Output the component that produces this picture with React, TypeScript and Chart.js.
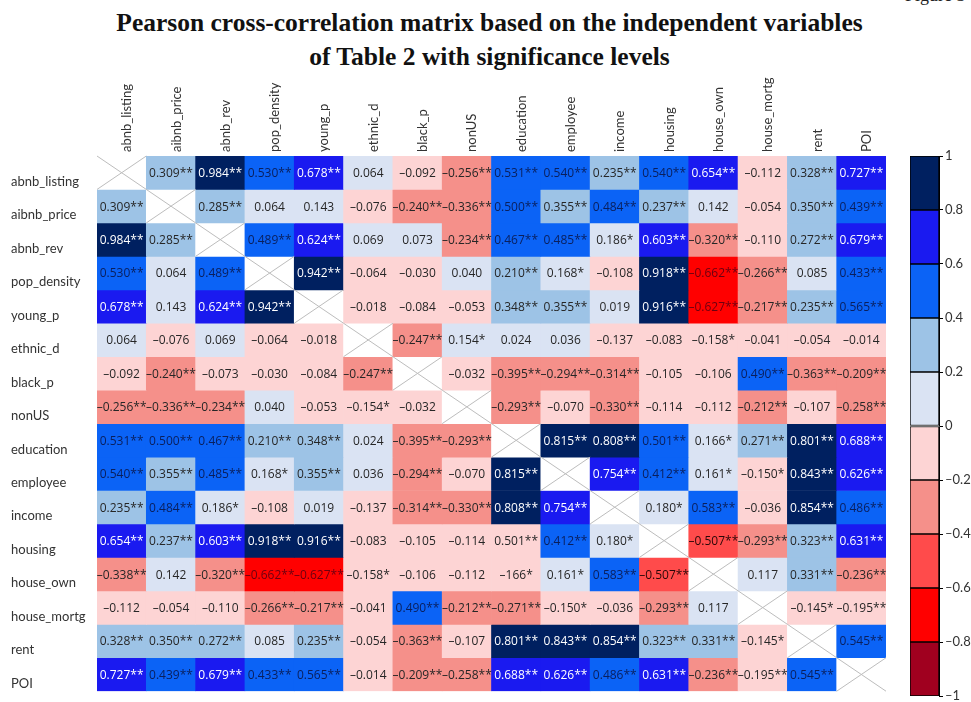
import React, { useEffect, useRef } from "react";
import { Chart, registerables } from "chart.js";

Chart.register(...registerables);

// ---------- data ----------
const colLabels = [
  "abnb_listing", "aibnb_price", "abnb_rev", "pop_density", "young_p", "ethnic_d", "black_p", "nonUS",
  "education", "employee", "income", "housing", "house_own", "house_mortg", "rent", "POI",
];
const rowLabels = colLabels;

// Pearson r (row by row); null = diagonal
const corr: (number | null)[][] = [
  [null, 0.309, 0.984, 0.530, 0.678, 0.064, -0.092, -0.256, 0.531, 0.540, 0.235, 0.540, 0.654, -0.112, 0.328, 0.727],
  [0.309, null, 0.285, 0.064, 0.143, -0.076, -0.240, -0.336, 0.500, 0.355, 0.484, 0.237, 0.142, -0.054, 0.350, 0.439],
  [0.984, 0.285, null, 0.489, 0.624, 0.069, 0.073, -0.234, 0.467, 0.485, 0.186, 0.603, -0.320, -0.110, 0.272, 0.679],
  [0.530, 0.064, 0.489, null, 0.942, -0.064, -0.030, 0.040, 0.210, 0.168, -0.108, 0.918, -0.662, -0.266, 0.085, 0.433],
  [0.678, 0.143, 0.624, 0.942, null, -0.018, -0.084, -0.053, 0.348, 0.355, 0.019, 0.916, -0.627, -0.217, 0.235, 0.565],
  [0.064, -0.076, 0.069, -0.064, -0.018, null, -0.247, 0.154, 0.024, 0.036, -0.137, -0.083, -0.158, -0.041, -0.054, -0.014],
  [-0.092, -0.240, -0.073, -0.030, -0.084, -0.247, null, -0.032, -0.395, -0.294, -0.314, -0.105, -0.106, 0.490, -0.363, -0.209],
  [-0.256, -0.336, -0.234, 0.040, -0.053, -0.154, -0.032, null, -0.293, -0.070, -0.330, -0.114, -0.112, -0.212, -0.107, -0.258],
  [0.531, 0.500, 0.467, 0.210, 0.348, 0.024, -0.395, -0.293, null, 0.815, 0.808, 0.501, 0.166, 0.271, 0.801, 0.688],
  [0.540, 0.355, 0.485, 0.168, 0.355, 0.036, -0.294, -0.070, 0.815, null, 0.754, 0.412, 0.161, -0.150, 0.843, 0.626],
  [0.235, 0.484, 0.186, -0.108, 0.019, -0.137, -0.314, -0.330, 0.808, 0.754, null, 0.180, 0.583, -0.036, 0.854, 0.486],
  [0.654, 0.237, 0.603, 0.918, 0.916, -0.083, -0.105, -0.114, 0.501, 0.412, 0.180, null, -0.507, -0.293, 0.323, 0.631],
  [-0.338, 0.142, -0.320, -0.662, -0.627, -0.158, -0.106, -0.112, -0.166, 0.161, 0.583, -0.507, null, 0.117, 0.331, -0.236],
  [-0.112, -0.054, -0.110, -0.266, -0.217, -0.041, 0.490, -0.212, -0.271, -0.150, -0.036, -0.293, 0.117, null, -0.145, -0.195],
  [0.328, 0.350, 0.272, 0.085, 0.235, -0.054, -0.363, -0.107, 0.801, 0.843, 0.854, 0.323, 0.331, -0.145, null, 0.545],
  [0.727, 0.439, 0.679, 0.433, 0.565, -0.014, -0.209, -0.258, 0.688, 0.626, 0.486, 0.631, -0.236, -0.195, 0.545, null],
];

// significance stars per cell (0, 1 = *, 2 = **)
const stars: number[][] = [
  [0, 2, 2, 2, 2, 0, 0, 2, 2, 2, 2, 2, 2, 0, 2, 2],
  [2, 0, 2, 0, 0, 0, 2, 2, 2, 2, 2, 2, 0, 0, 2, 2],
  [2, 2, 0, 2, 2, 0, 0, 2, 2, 2, 1, 2, 2, 0, 2, 2],
  [2, 0, 2, 0, 2, 0, 0, 0, 2, 1, 0, 2, 2, 2, 0, 2],
  [2, 0, 2, 2, 0, 0, 0, 0, 2, 2, 0, 2, 2, 2, 2, 2],
  [0, 0, 0, 0, 0, 0, 2, 1, 0, 0, 0, 0, 1, 0, 0, 0],
  [0, 2, 0, 0, 0, 2, 0, 0, 2, 2, 2, 0, 0, 2, 2, 2],
  [2, 2, 2, 0, 0, 1, 0, 0, 2, 0, 2, 0, 0, 2, 0, 2],
  [2, 2, 2, 2, 2, 0, 2, 2, 0, 2, 2, 2, 1, 2, 2, 2],
  [2, 2, 2, 1, 2, 0, 2, 0, 2, 0, 2, 2, 1, 1, 2, 2],
  [2, 2, 1, 0, 0, 0, 2, 2, 2, 2, 0, 1, 2, 0, 2, 2],
  [2, 2, 2, 2, 2, 0, 0, 0, 2, 2, 1, 0, 2, 2, 2, 2],
  [2, 0, 2, 2, 2, 1, 0, 0, 1, 1, 2, 2, 0, 0, 2, 2],
  [0, 0, 0, 2, 2, 0, 2, 2, 2, 1, 0, 2, 0, 0, 1, 2],
  [2, 2, 2, 0, 2, 0, 2, 0, 2, 2, 2, 2, 2, 1, 0, 2],
  [2, 2, 2, 2, 2, 0, 2, 2, 2, 2, 2, 2, 2, 2, 2, 0],
];

// cells printed differently in the source figure
const labelOverrides: Record<string, string> = { "12,8": "\u2013166*" };
const colorOverrides: Record<string, number> = { "11,8": -0.1 };

// colour scale bins
const binEdges = [-1, -0.8, -0.6, -0.4, -0.2, 0, 0.2, 0.4, 0.6, 0.8, 1];
const binColors = ["#a0001f", "#ff0000", "#ff4b4b", "#f5908a", "#fdd4d4", "#dae3f3", "#9dc3e6", "#0b63f6", "#1a1af0", "#002060"];
const binText = ["#ffffff", "#6b0010", "#2a0808", "#262626", "#262626", "#262626", "#262626", "#0a1f5c", "#ffffff", "#ffffff"];

const titleLines = [
  "Pearson cross-correlation matrix based on the independent variables",
  "of Table 2 with significance levels",
];

// ---------- helpers ----------
const binOf = (v: number) => Math.max(0, Math.min(9, Math.floor((v + 1) / 0.2 + 1e-9)));
const fmtNum = (v: number, d: number) => (v < 0 ? "\u2013" + Math.abs(v).toFixed(d) : v.toFixed(d));
const colorValue = (i: number, j: number) => {
  const k = `${i},${j}`;
  return k in colorOverrides ? colorOverrides[k] : (corr[i][j] as number);
};
const cellLabel = (i: number, j: number) => {
  const k = `${i},${j}`;
  if (k in labelOverrides) return labelOverrides[k];
  const v = corr[i][j] as number;
  return fmtNum(v, 3) + "*".repeat(stars[i][j]);
};

const FONT = "Lato, 'Open Sans', sans-serif";
const CELL_FONT = "'Open Sans', Lato, sans-serif";

const cellPlugin = {
  id: "cellText",
  afterDatasetsDraw(chart: any) {
    const ctx = chart.ctx;
    ctx.save();
    chart.data.datasets.forEach((_ds: any, i: number) => {
      const meta = chart.getDatasetMeta(i);
      meta.data.forEach((bar: any, j: number) => {
        const p = bar.getProps(["x", "y", "base", "width"], true);
        const left = p.x - p.width / 2;
        const right = p.x + p.width / 2;
        const top = Math.min(p.y, p.base);
        const bottom = Math.max(p.y, p.base);
        if (corr[i][j] === null) {
          ctx.strokeStyle = "#bdbdbd";
          ctx.lineWidth = 1;
          ctx.beginPath();
          ctx.moveTo(left, top);
          ctx.lineTo(right, bottom);
          ctx.moveTo(right, top);
          ctx.lineTo(left, bottom);
          ctx.stroke();
          return;
        }
        const b = binOf(colorValue(i, j));
        ctx.fillStyle = binText[b];
        ctx.font = `12px ${CELL_FONT}`;
        ctx.textAlign = "center";
        ctx.textBaseline = "middle";
        ctx.fillText(cellLabel(i, j), p.x, (top + bottom) / 2 + 1);
      });
    });
    ctx.restore();
  },
};

export default function App() {
  const mainRef = useRef<HTMLCanvasElement>(null);
  const barRef = useRef<HTMLCanvasElement>(null);

  useEffect(() => {
    const datasets = rowLabels.map((_r, i) => ({
      label: rowLabels[i],
      data: colLabels.map((_c, j) => [i, i + 1]),
      backgroundColor: colLabels.map((_c, j) =>
        corr[i][j] === null ? "#ffffff" : binColors[binOf(colorValue(i, j))]
      ),
      borderWidth: 0,
      grouped: false,
      barPercentage: 1,
      categoryPercentage: 1,
    }));

    const main = new Chart(mainRef.current as HTMLCanvasElement, {
      type: "bar",
      data: { labels: colLabels, datasets: datasets as any },
      options: {
        responsive: false,
        animation: false,
        events: [],
        layout: { padding: { left: 11, right: 85, top: 0, bottom: 4 } },
        plugins: { legend: { display: false }, tooltip: { enabled: false } },
        scales: {
          x: {
            type: "category",
            position: "top",
            grid: { display: false, drawTicks: false },
            border: { display: false },
            ticks: {
              autoSkip: false,
              minRotation: 90,
              maxRotation: 90,
              labelOffset: 21,
              padding: 4,
              color: "#333333",
              font: { family: FONT, size: 13 },
            },
            afterFit: (s: any) => {
              s.height = 156;
            },
          },
          y: {
            type: "linear",
            min: 0,
            max: 16,
            reverse: true,
            grid: { display: false, drawTicks: false },
            border: { display: false },
            afterBuildTicks: (s: any) => {
              s.ticks = rowLabels.map((_r, i) => ({ value: i + 0.5 }));
            },
            ticks: {
              autoSkip: false,
              crossAlign: "far",
              labelOffset: 9,
              color: "#333333",
              font: { family: FONT, size: 13 },
              callback: (v: any) => rowLabels[Math.floor(Number(v))],
            },
            afterFit: (s: any) => {
              s.width = 86;
            },
          },
        },
      } as any,
      plugins: [cellPlugin],
    });

    const bar = new Chart(barRef.current as HTMLCanvasElement, {
      type: "bar",
      data: {
        labels: [""],
        datasets: binColors.map((c, k) => ({
          label: String(k),
          data: [[binEdges[k], binEdges[k + 1]]],
          backgroundColor: c,
          borderColor: "#000000",
          borderWidth: 1,
          borderSkipped: false,
          grouped: false,
          barPercentage: 1,
          categoryPercentage: 1,
        })) as any,
      },
      options: {
        responsive: false,
        animation: false,
        events: [],
        layout: { padding: { left: 30, right: 0, top: 16, bottom: 14 } },
        plugins: { legend: { display: false }, tooltip: { enabled: false } },
        scales: {
          x: { display: false },
          y: {
            type: "linear",
            position: "right",
            min: -1,
            max: 1,
            grid: { drawOnChartArea: false, drawTicks: true, tickLength: 4, color: "#000000" },
            border: { display: true, color: "#000000" },
            ticks: {
              stepSize: 0.2,
              padding: 2,
              color: "#333333",
              font: { family: FONT, size: 13 },
              callback: (v: any) => {
                const r = Math.round(Number(v) * 10) / 10;
                return r < 0 ? "\u2013" + Math.abs(r) : String(Math.abs(r));
              },
            },
            afterFit: (s: any) => {
              s.width = 32;
            },
          },
        },
      } as any,
    });

    return () => {
      main.destroy();
      bar.destroy();
    };
  }, []);

  return (
    <div style={{ position: "absolute", left: 0, top: 0, width: 971, height: 702, background: "#fff", overflow: "hidden" }}>
      <div
        style={{
          position: "absolute",
          left: 905,
          top: -15,
          fontFamily: "'Liberation Serif', serif",
          fontSize: 18,
          color: "#222",
          whiteSpace: "nowrap",
        }}
      >
        Figure 3
      </div>
      <div
        style={{
          position: "absolute",
          left: 4,
          top: 6,
          width: 971,
          textAlign: "center",
          fontFamily: "'Liberation Serif', serif",
          fontWeight: 700,
          fontSize: 25.5,
          lineHeight: "34px",
          color: "#111",
        }}
      >
        {titleLines.map((t) => (
          <div key={t}>{t}</div>
        ))}
      </div>
      <canvas ref={mainRef} width={971} height={702} style={{ position: "absolute", left: 0, top: 0 }} />
      <canvas ref={barRef} width={91} height={570} style={{ position: "absolute", left: 880, top: 140 }} />
    </div>
  );
}
